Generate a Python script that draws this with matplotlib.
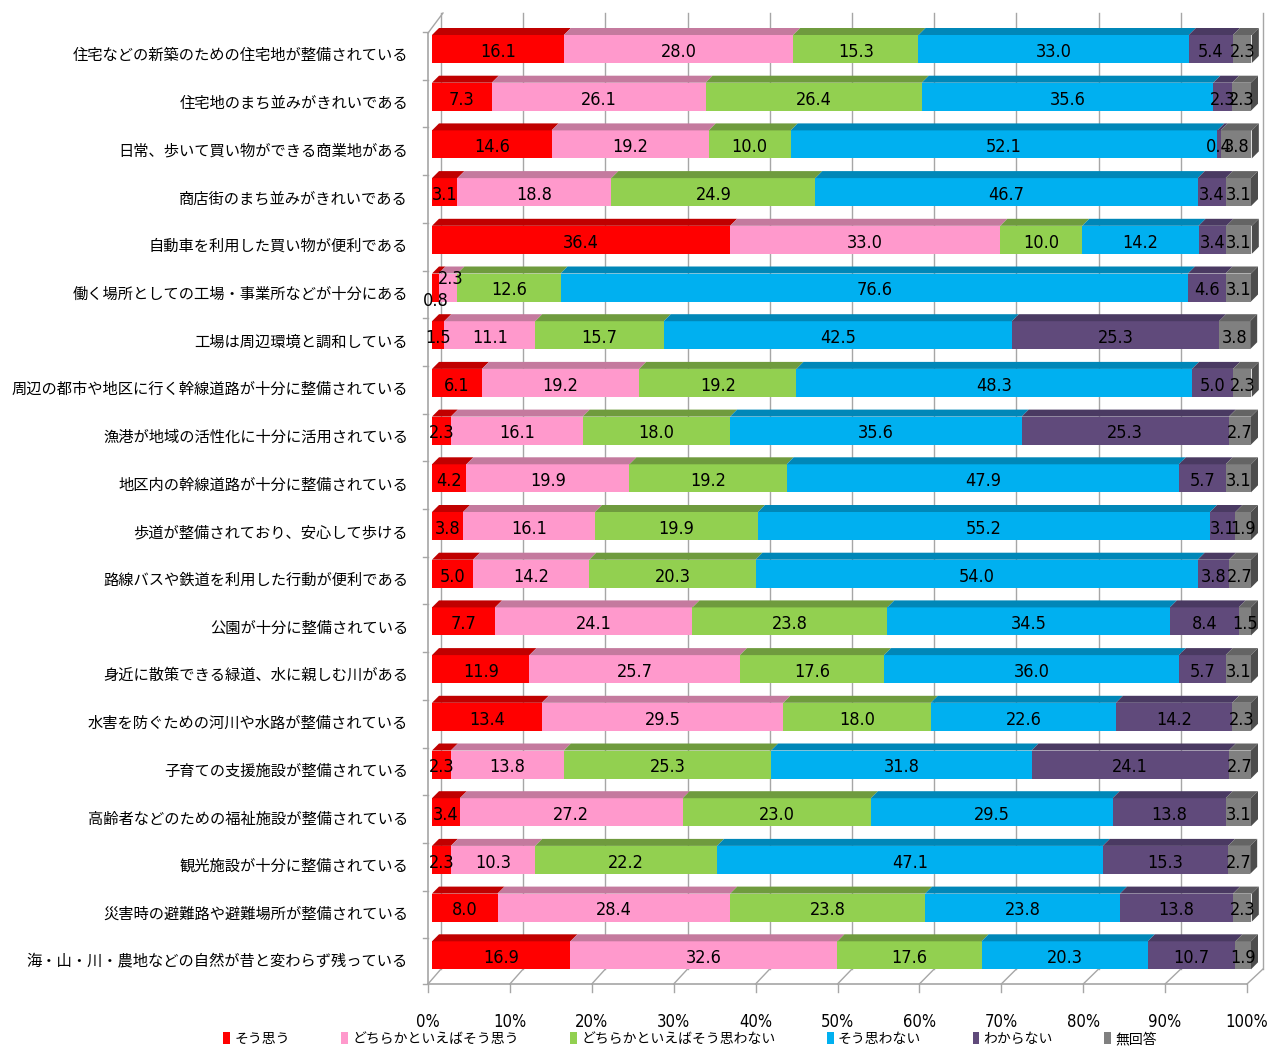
import matplotlib
matplotlib.use("Agg")
import matplotlib.pyplot as plt
from matplotlib.patches import Polygon, Patch
from matplotlib.lines import Line2D
from matplotlib import font_manager

plt.rcParams['font.family'] = ['Noto Sans CJK JP', 'DejaVu Sans']

# ---- data -----------------------------------------------------------------
items = [
    "住宅などの新築のための住宅地が整備されている",
    "住宅地のまち並みがきれいである",
    "日常、歩いて買い物ができる商業地がある",
    "商店街のまち並みがきれいである",
    "自動車を利用した買い物が便利である",
    "働く場所としての工場・事業所などが十分にある",
    "工場は周辺環境と調和している",
    "周辺の都市や地区に行く幹線道路が十分に整備されている",
    "漁港が地域の活性化に十分に活用されている",
    "地区内の幹線道路が十分に整備されている",
    "歩道が整備されており、安心して歩ける",
    "路線バスや鉄道を利用した行動が便利である",
    "公園が十分に整備されている",
    "身近に散策できる緑道、水に親しむ川がある",
    "水害を防ぐための河川や水路が整備されている",
    "子育ての支援施設が整備されている",
    "高齢者などのための福祉施設が整備されている",
    "観光施設が十分に整備されている",
    "災害時の避難路や避難場所が整備されている",
    "海・山・川・農地などの自然が昔と変わらず残っている",
]
responses = ["そう思う", "どちらかといえばそう思う", "どちらかといえばそう思わない",
             "そう思わない", "わからない", "無回答"]

agree = [16.1, 7.3, 14.6, 3.1, 36.4, 0.8, 1.5, 6.1, 2.3, 4.2,
         3.8, 5.0, 7.7, 11.9, 13.4, 2.3, 3.4, 2.3, 8.0, 16.9]
somewhat_agree = [28.0, 26.1, 19.2, 18.8, 33.0, 2.3, 11.1, 19.2, 16.1, 19.9,
                  16.1, 14.2, 24.1, 25.7, 29.5, 13.8, 27.2, 10.3, 28.4, 32.6]
somewhat_disagree = [15.3, 26.4, 10.0, 24.9, 10.0, 12.6, 15.7, 19.2, 18.0, 19.2,
                     19.9, 20.3, 23.8, 17.6, 18.0, 25.3, 23.0, 22.2, 23.8, 17.6]
disagree = [33.0, 35.6, 52.1, 46.7, 14.2, 76.6, 42.5, 48.3, 35.6, 47.9,
            55.2, 54.0, 34.5, 36.0, 22.6, 31.8, 29.5, 47.1, 23.8, 20.3]
unknown = [5.4, 2.3, 0.4, 3.4, 3.4, 4.6, 25.3, 5.0, 25.3, 5.7,
           3.1, 3.8, 8.4, 5.7, 14.2, 24.1, 13.8, 15.3, 13.8, 10.7]
no_answer = [2.3, 2.3, 3.8, 3.1, 3.1, 3.1, 3.8, 2.3, 2.7, 3.1,
             1.9, 2.7, 1.5, 3.1, 2.3, 2.7, 3.1, 2.7, 2.3, 1.9]

series = [agree, somewhat_agree, somewhat_disagree, disagree, unknown, no_answer]
tick_labels = ["0%", "10%", "20%", "30%", "40%", "50%", "60%", "70%", "80%", "90%", "100%"]

# ---- styling --------------------------------------------------------------
front_colors = ["#FF0000", "#FF99CC", "#92D050", "#00B0F0", "#604A7B", "#808080"]
top_colors = ["#C00000", "#C47A9E", "#6F9B3E", "#0087B8", "#4A3A62", "#646464"]
side_color = "#4D4D4D"
frame_color = "#A6A6A6"


def narrow_font():
    """Pick the narrowest installed sans font for the numeric labels."""
    for fam, stretch in [("Liberation Sans Narrow", "normal"),
                         ("DejaVu Sans", "condensed")]:
        try:
            prop = font_manager.FontProperties(family=fam, stretch=stretch)
            path = font_manager.findfont(prop, fallback_to_default=False)
            if stretch == "condensed" and "Condensed" not in path:
                continue
            return font_manager.FontProperties(fname=path)
        except Exception:
            continue
    return font_manager.FontProperties(family="DejaVu Sans")


num_prop = narrow_font()

W, H = 1273, 1049
fig = plt.figure(figsize=(W / 100, H / 100), dpi=100)

# pixel geometry of the plotting box
ax_left, ax_right = 432, 1251
ax_top, ax_bottom = 13, 984
ax = fig.add_axes([ax_left / W, 1 - ax_bottom / H,
                   (ax_right - ax_left) / W, (ax_bottom - ax_top) / H])
ax.set_xlim(0, 100)
row_px = 47.7
first_center = 49
ax.set_ylim((ax_bottom - first_center) / row_px, (ax_top - first_center) / row_px)
ax.axis("off")

px_x = 100 / (ax_right - ax_left)      # data units per pixel (x)
px_y = 1 / row_px                       # data units per pixel (y)


def to_data(xp, yp):
    return (xp - ax_left) * px_x, (yp - first_center) * px_y


# ---- walls and floor ------------------------------------------------------
front0, front100 = 428, 1247
back0, back100 = 441, 1263
floor_front_y, floor_back_y = 984, 969
wall_top = 13
line_kw = dict(color=frame_color, lw=1.0, clip_on=False, zorder=0)

for k in range(11):
    xf = front0 + (front100 - front0) * k / 10
    xb = back0 + (back100 - back0) * k / 10
    # back-wall vertical gridline
    x1, y1 = to_data(xb, wall_top)
    x2, y2 = to_data(xb, floor_back_y)
    ax.add_line(Line2D([x1, x2], [y1, y2], **line_kw))
    # floor diagonal
    x3, y3 = to_data(xf, floor_front_y)
    ax.add_line(Line2D([x2, x3], [y2, y3], **line_kw))
    # tick below front edge
    x4, y4 = to_data(xf, floor_front_y + 8)
    ax.add_line(Line2D([x3, x4], [y3, y4], **line_kw))
    # percentage label
    xl, yl = to_data(xf, 1022)
    ax.text(xl, yl, tick_labels[k], ha="center", va="center", fontsize=12,
            fontproperties=num_prop, clip_on=False)

# front floor edge and left wall
xa, ya = to_data(front0, floor_front_y)
xb_, yb_ = to_data(front100, floor_front_y)
ax.add_line(Line2D([xa, xb_], [ya, yb_], color=frame_color, lw=1.2, clip_on=False, zorder=5))
xt, yt = to_data(front0, 33)
ax.add_line(Line2D([xa, xt], [ya, yt], color=frame_color, lw=1.2, clip_on=False, zorder=5))
xbt, ybt = to_data(back0 + 2, wall_top)
ax.add_line(Line2D([xt, xbt], [yt, ybt], color=frame_color, lw=1.0, clip_on=False, zorder=5))
# category tick marks on the left wall
for i in range(len(items) + 1):
    yp = first_center + row_px * i - 17
    if i == len(items):
        yp = floor_front_y
    xs, ys = to_data(front0 - 5, yp)
    xe, ye = to_data(front0, yp)
    ax.add_line(Line2D([xs, xe], [ys, ye], color=frame_color, lw=1.0, clip_on=False, zorder=5))

# ---- bars -----------------------------------------------------------------
rows = list(range(len(items)))
bar_h = 28 * px_y
dx = 7 * px_x
dy = 7 * px_y

label_shift = {(5, 0): (0.0, 0.23), (5, 1): (0.3, -0.23)}

lefts = [0.0] * len(items)
for s, vals in enumerate(series):
    ax.barh(rows, vals, left=lefts, height=bar_h, color=front_colors[s],
            edgecolor="none", zorder=3)
    for i, v in enumerate(vals):
        l = lefts[i]
        r = l + v
        top = i - bar_h / 2
        bot = i + bar_h / 2
        ax.add_patch(Polygon([(l, top), (r, top), (r + dx, top - dy), (l + dx, top - dy)],
                             closed=True, facecolor=top_colors[s], edgecolor="none",
                             zorder=3, clip_on=False))
        if s == len(series) - 1:
            ax.add_patch(Polygon([(r, top), (r + dx, top - dy), (r + dx, bot - dy), (r, bot)],
                                 closed=True, facecolor=side_color, edgecolor="none",
                                 zorder=3, clip_on=False))
        ox, oy = label_shift.get((i, s), (0.0, 0.0))
        ax.text(l + v / 2 + ox, i + 0.06 + oy, f"{v:.1f}", ha="center", va="center",
                fontproperties=num_prop, fontsize=13, zorder=6, clip_on=False)
    lefts = [a + b for a, b in zip(lefts, vals)]

# ---- category labels ------------------------------------------------------
lab_x, _ = to_data(408, 0)
for i, name in enumerate(items):
    ax.text(lab_x, i + 0.14, name, ha="right", va="center", fontsize=11,
            clip_on=False)

# ---- legend ---------------------------------------------------------------
handles = [Patch(facecolor=c, edgecolor="none") for c in front_colors]
fig.legend(handles, responses, loc="center left",
           bbox_to_anchor=(223 / W, 10 / H), ncol=6, frameon=False,
           fontsize=10, handlelength=0.5, handleheight=1.0, handletextpad=0.3,
           columnspacing=3.7, borderaxespad=0, borderpad=0)

fig.savefig("out.png", dpi=100)
